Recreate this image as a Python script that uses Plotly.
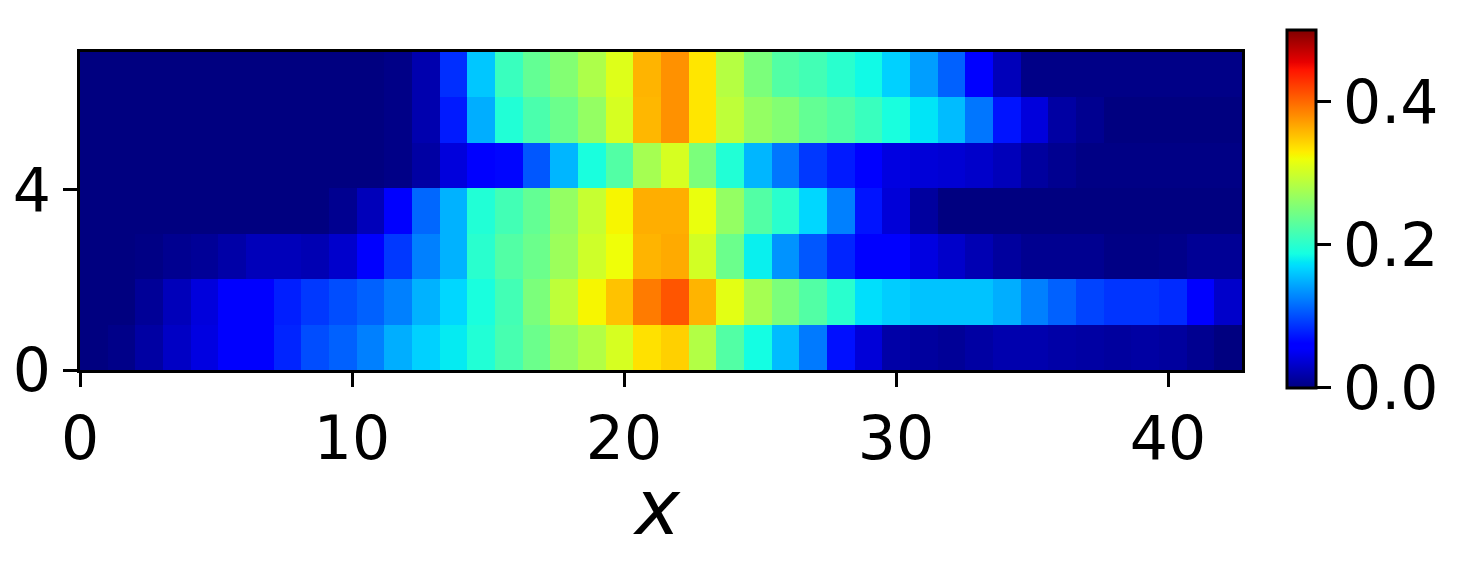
import numpy as np
import plotly.graph_objects as go

# ---- data (rows from y=0 upward, 42 columns each) ----
row0 = [0, 0.004, 0.015, 0.03, 0.042, 0.058, 0.062, 0.08, 0.1, 0.11, 0.125, 0.148, 0.165, 0.178,
        0.195, 0.218, 0.24, 0.265, 0.283, 0.305, 0.336, 0.345, 0.283, 0.225, 0.187, 0.155, 0.122, 0.07,
        0.038, 0.017, 0.013, 0.01, 0.015, 0.02, 0.02, 0.017, 0.015, 0.013, 0.015, 0.013, 0.007, 0]
row1 = [0, 0, 0.01, 0.025, 0.04, 0.058, 0.062, 0.077, 0.09, 0.1, 0.11, 0.125, 0.15, 0.168,
        0.19, 0.215, 0.25, 0.29, 0.325, 0.352, 0.39, 0.41, 0.36, 0.313, 0.275, 0.25, 0.225, 0.2,
        0.172, 0.163, 0.158, 0.158, 0.158, 0.148, 0.125, 0.11, 0.095, 0.088, 0.088, 0.083, 0.06, 0.032]
row2 = [0, 0, 0.002, 0.007, 0.01, 0.017, 0.025, 0.025, 0.022, 0.033, 0.06, 0.09, 0.125, 0.15,
        0.2, 0.225, 0.24, 0.27, 0.3, 0.32, 0.36, 0.365, 0.303, 0.24, 0.18, 0.135, 0.105, 0.08,
        0.06, 0.058, 0.042, 0.032, 0.022, 0.013, 0.007, 0.007, 0.007, 0.002, 0.002, 0.004, 0.009, 0.009]
row3 = [0, 0, 0, 0, 0, 0, 0, 0, 0, 0.007, 0.025, 0.06, 0.113, 0.15,
        0.195, 0.215, 0.235, 0.265, 0.295, 0.325, 0.363, 0.363, 0.317, 0.265, 0.225, 0.2, 0.168, 0.125,
        0.072, 0.038, 0.013, 0, 0, 0, 0, 0, 0, 0, 0, 0, 0, 0]
row4 = [0, 0, 0, 0, 0, 0, 0, 0, 0, 0, 0, 0.003, 0.015, 0.04,
        0.055, 0.065, 0.105, 0.152, 0.19, 0.225, 0.275, 0.305, 0.25, 0.195, 0.152, 0.12, 0.09, 0.075,
        0.06, 0.042, 0.038, 0.036, 0.032, 0.025, 0.013, 0.007, 0.002, 0.002, 0.002, 0.002, 0.002, 0.002]
row5 = [0, 0, 0, 0, 0, 0, 0, 0, 0, 0, 0, 0.003, 0.02, 0.075,
        0.148, 0.195, 0.22, 0.24, 0.265, 0.305, 0.358, 0.378, 0.333, 0.29, 0.265, 0.255, 0.235, 0.225,
        0.21, 0.19, 0.175, 0.155, 0.12, 0.072, 0.04, 0.015, 0.007, 0, 0, 0, 0, 0]
row6 = [0, 0, 0, 0, 0, 0, 0, 0, 0, 0, 0, 0.003, 0.02, 0.085,
        0.16, 0.21, 0.235, 0.255, 0.28, 0.31, 0.36, 0.378, 0.333, 0.285, 0.25, 0.225, 0.215, 0.2,
        0.185, 0.165, 0.14, 0.11, 0.06, 0.025, 0.003, 0.003, 0.003, 0.003, 0.003, 0.003, 0.003, 0.003]
z_rows = [row0, row1, row2, row3, row4, row5, row6]

x_extent = 42.72
y_extent = 7.05
x_ticks = [0, 10, 20, 30, 40]
y_ticks = [0, 4]
cbar_ticks = [0.0, 0.2, 0.4]
cbar_ticktext = ["0.0", "0.2", "0.4"]
x_label = "<i>x</i>"

nx = len(row0)
ny = len(z_rows)
dx = x_extent / nx
dy = y_extent / ny
xc = [(i + 0.5) * dx for i in range(nx)]
yc = [(j + 0.5) * dy for j in range(ny)]

# matplotlib 'jet' colormap
def jet(f):
    r = np.interp(f, [0, 0.35, 0.66, 0.89, 1], [0, 0, 1, 1, 0.5])
    g = np.interp(f, [0, 0.125, 0.375, 0.64, 0.91, 1], [0, 0, 1, 1, 0, 0])
    b = np.interp(f, [0, 0.11, 0.34, 0.65, 1], [0.5, 1, 1, 0, 0])
    return f"rgb({int(round(r*255))},{int(round(g*255))},{int(round(b*255))})"

stops = sorted(set(list(np.linspace(0, 1, 65)) + [0.11, 0.125, 0.34, 0.35, 0.375, 0.64, 0.65, 0.66, 0.89, 0.91]))
colorscale = [[float(s), jet(s)] for s in stops]

FONT = "DejaVu Sans"

fig = go.Figure(go.Heatmap(
    x=xc, y=yc, z=z_rows,
    zmin=0, zmax=0.5,
    colorscale=colorscale,
    colorbar=dict(
        x=1.0387, xanchor="left", xpad=0,
        y=0.5063, yanchor="middle", ypad=0,
        len=358, lenmode="pixels",
        thickness=29, thicknessmode="pixels",
        outlinewidth=3, outlinecolor="black",
        tickvals=cbar_ticks, ticktext=cbar_ticktext,
        ticks="outside", ticklen=14, tickwidth=3, tickcolor="black",
        tickfont=dict(family=FONT, size=60, color="black"),
    ),
))

fig.update_layout(
    width=1474, height=580,
    margin=dict(l=72, r=240, t=44, b=218),
    paper_bgcolor="white", plot_bgcolor="white",
    font=dict(family=FONT, size=60, color="black"),
    xaxis=dict(
        range=[0, x_extent], tickvals=x_ticks, ticktext=[str(v) for v in x_ticks],
        ticks="outside", ticklen=14, tickwidth=3, tickcolor="black",
        showline=True, linewidth=3, linecolor="black", mirror=True,
        showgrid=False, zeroline=False, automargin=False,
        tickfont=dict(family=FONT, size=60, color="black"),
    ),
    yaxis=dict(
        range=[0, y_extent], tickvals=y_ticks, ticktext=[str(v) for v in y_ticks],
        ticks="outside", ticklen=14, tickwidth=3, tickcolor="black",
        showline=True, linewidth=3, linecolor="black", mirror=True,
        showgrid=False, zeroline=False, automargin=False,
        tickfont=dict(family=FONT, size=60, color="black"),
    ),
    annotations=[dict(
        text=x_label, xref="paper", yref="paper", x=0.4966, y=-0.579,
        xanchor="center", yanchor="bottom", showarrow=False,
        font=dict(family=FONT, size=76, color="black"),
    )],
)

fig.write_html("out.html")
